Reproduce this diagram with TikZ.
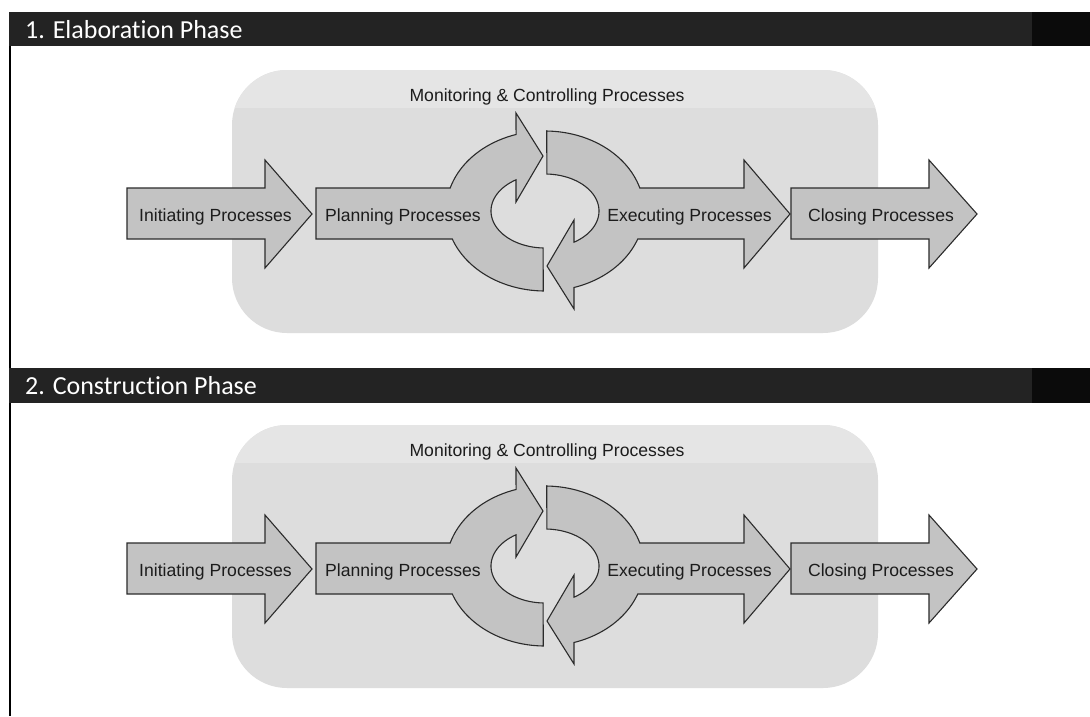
\documentclass[tikz,border=0pt]{standalone}
\usepackage{fontspec}
\newfontfamily\lblfont{Liberation Sans}
\newfontfamily\headfont[Ligatures={NoCommon}]{Carlito}

\definecolor{panelgrey}{HTML}{DDDDDD}
\definecolor{panellight}{HTML}{E5E5E5}
\definecolor{arrowgrey}{HTML}{C3C3C3}
\definecolor{edgegrey}{HTML}{2B2B2B}
\definecolor{barfill}{HTML}{232323}
\definecolor{barend}{HTML}{0B0B0B}
\definecolor{labelink}{HTML}{1C1C1C}

\tikzset{
  procarrow/.style={fill=arrowgrey, draw=edgegrey, line width=1.1pt, line join=miter},
  proclabel/.style={font=\lblfont\fontsize{17.6}{20}\selectfont, text=labelink,
                    anchor=base, inner sep=0pt},
  phasetitle/.style={font=\headfont\fontsize{26}{30}\selectfont, text=white,
                     anchor=base west, inner sep=0pt},
  panelbox/.style={fill=panelgrey, draw=none, rounded corners=55pt},
  % one row of process groups inside its rounded panel
  processrow/.pic={
    \fill[panelbox] (232,425) rectangle (878,688);
    \begin{scope}
      \clip[rounded corners=55pt] (232,425) rectangle (878,688);
      \fill[panellight] (232,425) rectangle (878,463);
    \end{scope}
    % initiating
    \draw[procarrow] (127,543) -- (265,543) -- (265,515) -- (312,569)
      -- (265,623) -- (265,594) -- (127,594) -- cycle;
    % planning, bending up into the monitoring cycle
    \draw[procarrow] (316,543) -- (450,543)
      -- plot[domain=196.7:253, samples=30, variable=\t]
           ({545+99*cos(\t)},{566+80*sin(\t)})
      -- (516,468) -- (543,511) -- (516,557) -- (516,535)
      -- plot[domain=0:145.5, samples=40, variable=\t]
           ({545+54*cos(237.5-\t)},{566+37*sin(237.5-\t)})
      -- plot[domain=91:159.5, samples=30, variable=\t]
           ({545+99*cos(\t)},{566+80*sin(\t)})
      -- (316,594) -- cycle;
    % executing, coming back round from the cycle
    \draw[procarrow] (546.7,486)
      -- plot[domain=271:343.3, samples=30, variable=\t]
           ({545+99*cos(\t)},{566+80*sin(\t)})
      -- (744,543) -- (744,515) -- (790,569) -- (744,623) -- (744,594)
      -- plot[domain=20.5:73, samples=30, variable=\t]
           ({545+99*cos(\t)},{566+80*sin(\t)})
      -- (574,664) -- (547,621) -- (574,575) -- (574,597)
      -- plot[domain=0:145.5, samples=40, variable=\t]
           ({545+54*cos(57.5-\t)},{566+37*sin(57.5-\t)})
      -- cycle;
    % closing
    \draw[procarrow] (791,543) -- (929,543) -- (929,515) -- (977,569)
      -- (929,623) -- (929,594) -- (791,594) -- cycle;
    % labels
    \node[proclabel] (-monitor) at (547,456) {Monitoring \& Controlling Processes};
    \node[proclabel] (-init)    at (215.5,576) {Initiating Processes};
    \node[proclabel] (-plan)    at (403,576)   {Planning Processes};
    \node[proclabel] (-exec)    at (689.5,576) {Executing Processes};
    \node[proclabel] (-close)   at (881,576)   {Closing Processes};
  }
}

\begin{document}
\begin{tikzpicture}[x=1pt, y=-1pt]
  \useasboundingbox (0,0) rectangle (1090,716);
  \fill[white] (0,0) rectangle (1090,716);

  % left rule of the table
  \draw[black, line width=2pt] (10,30) -- (10,716);

  % phase header bars
  \fill[barfill] (9,12) rectangle (1032,46);
  \fill[barend]  (1032,12) rectangle (1090,46);
  \node[phasetitle] (elabtitle) at (25,38) {1. Elaboration Phase};

  \fill[barfill] (9,368) rectangle (1032,403);
  \fill[barend]  (1032,368) rectangle (1090,403);
  \node[phasetitle] (consttitle) at (25,394) {2. Construction Phase};

  % process groups of each phase
  \pic (elab)  at (0,-355) {processrow};
  \pic (const) at (0,0)    {processrow};
\end{tikzpicture}
\end{document}
